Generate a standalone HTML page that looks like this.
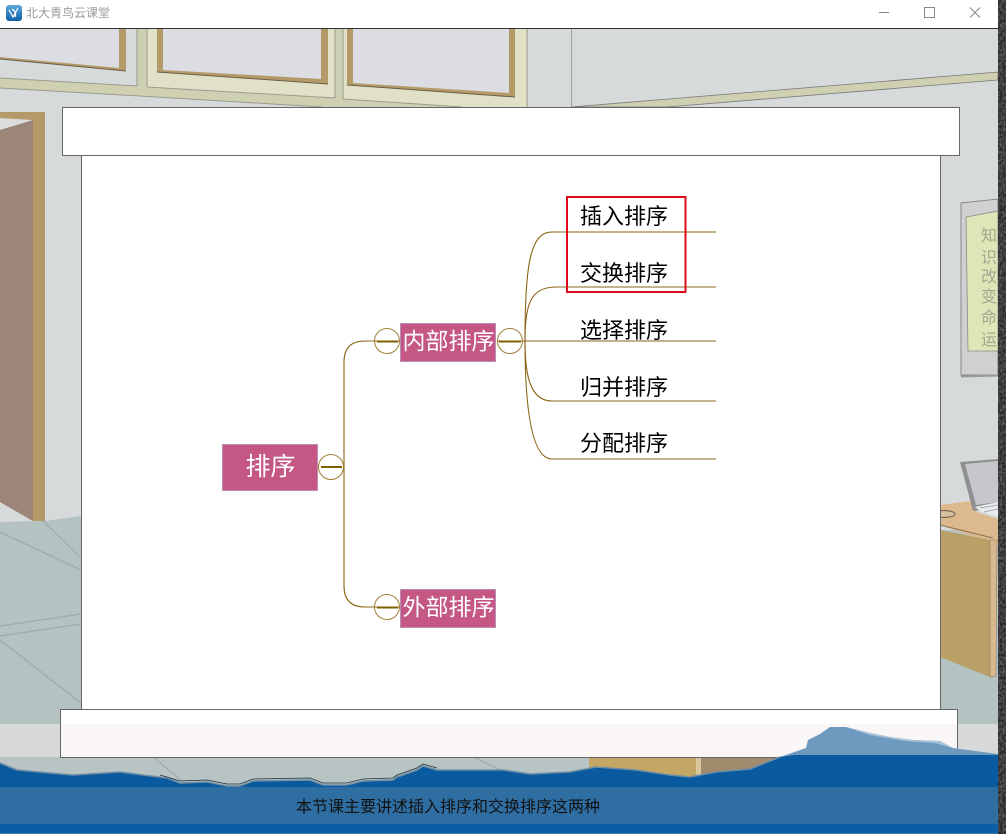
<!DOCTYPE html>
<html lang="zh"><head><meta charset="utf-8"><title>排序</title>
<style>html,body{margin:0;padding:0;background:#fff}svg{display:block}
text{font-family:"Liberation Sans","Noto Sans CJK SC",sans-serif}</style></head>
<body>
<svg xmlns="http://www.w3.org/2000/svg" width="1006" height="834" viewBox="0 0 1006 834">
<defs>
<filter id="n" x="0" y="0" width="100%" height="100%"><feTurbulence type="fractalNoise" baseFrequency="0.35" numOctaves="3" seed="4"/><feColorMatrix values="0 0 0 0 .42  0 0 0 0 .42  0 0 0 0 .43  .9 0 0 0 -.3"/></filter>
<linearGradient id="ic" x1="0" y1="0" x2="0" y2="1"><stop offset="0" stop-color="#5fa8dc"/><stop offset="1" stop-color="#0d5fa8"/></linearGradient>
</defs>
<!-- wall -->
<rect x="0" y="28" width="998" height="700" fill="#d6dadb"/>
<!-- window panels -->
<polygon points="137,28 147,28 147,87 137,86" fill="#cdcfb4"/>
<polygon points="147,28 335,28 335,98 147,87" fill="#e0e1c6"/>
<polygon points="335,28 343,28 343,99 335,98" fill="#cdcfb4"/>
<polygon points="343,28 527,28 527,107 462,107 343,99" fill="#e0e1c6"/>
<polygon points="0,78 137,86 147,87 335,98 343,99 462,107 322,107 140,96 0,88" fill="#cfd0b2"/>
<path d="M0,78 L137,86 M147,87 L335,98 M343,99 L462,107 M0,88 L140,96 L322,107 M137,28V86 M147,28V87 M335,28V98 M343,28V99 M527,28V107" stroke="#9a9c8e" stroke-width="1" fill="none"/>
<!-- window 1 -->
<polygon points="0,28 126,28 126,71 0,59" fill="#b39a68"/>
<polygon points="0,28 119,28 119,68 0,57" fill="#dcdde2"/>
<path d="M0,59 L126,71" stroke="#6d5f48" stroke-width="1"/>
<!-- window 2 -->
<polygon points="157,28 328,28 328,84 157,72" fill="#b39a68"/>
<polygon points="163,28 321,28 321,79 163,70" fill="#dcdde2"/>
<path d="M157,72 L328,84" stroke="#6d5f48" stroke-width="1"/>
<!-- window 3 -->
<polygon points="347,28 515,28 515,97 347,85" fill="#b39a68"/>
<polygon points="353,28 509,28 509,93 353,83" fill="#dcdde2"/>
<path d="M347,85 L515,97" stroke="#6d5f48" stroke-width="1"/>
<!-- right wall -->
<line x1="571.5" y1="28" x2="571.5" y2="107" stroke="#9aa09f"/>
<polygon points="571,107 998,72 998,80 667,107" fill="#cfd0b2" stroke="#777" stroke-width="0.8"/>
<!-- floor -->
<polygon points="0,522 45,521 81,516 81,724 0,724" fill="#b5c2c2"/>
<rect x="940" y="530" width="58" height="195" fill="#b5c2c2"/>
<path d="M0,532 L81,570 M40,518 L81,558 M0,626 L81,614 M0,636 L81,624 M0,640 L81,703" stroke="#a0aeae" stroke-width="1.5" fill="none"/>
<!-- door -->
<polygon points="0,112 45,112 45,521 33,521 0,502" fill="#b39a68"/>
<polygon points="0,118 33,120 33,521 0,502" fill="#9c8579"/>
<polygon points="0,118 33,120 0,130" fill="#dcdcdc"/>
<!-- bottom strip -->
<rect x="0" y="724" width="998" height="40" fill="#d6d9d8"/>
<rect x="0" y="757" width="998" height="35" fill="#b8c4c4"/>
<path d="M153,757 L182,781 M473,757 L500,770" stroke="#a0acac" stroke-width="1.2"/>
<rect x="589" y="757" width="107" height="30" fill="#c4a765"/>
<rect x="696" y="757" width="5" height="30" fill="#d8c8a0"/>
<rect x="701" y="757" width="85" height="30" fill="#a08c6c"/>
<!-- notice board -->
<polygon points="961,203 998,199 998,375 961,375" fill="#cfd0d2" stroke="#888" stroke-width="1"/>
<line x1="961" y1="376.5" x2="998" y2="375.5" stroke="#999" stroke-width="2"/>
<polygon points="966,217 998,211 998,351 968,351" fill="#e0e5b8" stroke="#888" stroke-width="0.8"/>
<g font-size="16" fill="#a3a690" text-anchor="middle">
<text x="989" y="241">知</text><text x="989" y="263">识</text><text x="989" y="282">改</text><text x="989" y="302">变</text><text x="989" y="323">命</text><text x="989" y="345">运</text>
</g>
<!-- laptop and desk -->
<polygon points="940,505 970,501 977,512 998,519 998,545 940,525" fill="#dcb98f"/>
<polygon points="960,462 998,459 998,508 973,511" fill="#8f9091"/>
<polygon points="965,464 998,461 998,502 976,505" fill="#c6c7ca"/>
<polygon points="975,507 998,502 998,517 980,511" fill="#e8ebee"/>
<path d="M980,508 L998,505 M984,512 L998,509" stroke="#9a9a9a" stroke-width="0.8"/>
<path d="M940,525 L993,538" stroke="#8a7350" stroke-width="1"/>
<ellipse cx="944" cy="514" rx="11" ry="3.5" fill="#d6c0a0" stroke="#7f6a52" stroke-width="1.2"/>
<polygon points="940,530 990,540 990,677 940,657" fill="#b9a066"/>
<polygon points="990,540 997,540 996,676 990,677" fill="#d8b98f" stroke="#8a7a60" stroke-width="0.6"/>
<!-- outer dark strip -->
<rect x="998" y="0" width="8" height="834" fill="#2a2a2c"/>
<rect x="998" y="0" width="8" height="834" filter="url(#n)"/>
<!-- title bar -->
<rect x="0" y="0" width="998" height="28" fill="#fff"/>
<line x1="0" y1="28.5" x2="998" y2="28.5" stroke="#333"/>
<rect x="6" y="5" width="16" height="16" rx="3" fill="url(#ic)"/>
<path d="M9,10 L13,17 L18,8 M12,9 Q17,12 15,17" stroke="#fff" stroke-width="1.2" fill="none"/>
<text x="26" y="17" font-size="12" fill="#9a9a9a">北大青鸟云课堂</text>
<line x1="879" y1="12.5" x2="889" y2="12.5" stroke="#888"/>
<rect x="924.5" y="7.5" width="10" height="10" fill="none" stroke="#888"/>
<path d="M970,7.5 L980,17.5 M980,7.5 L970,17.5" stroke="#888" fill="none"/>
<!-- main slide -->
<rect x="81.5" y="155.5" width="859" height="554" fill="#fff" stroke="#666"/>
<rect x="62.5" y="107.5" width="897" height="48" fill="#fff" stroke="#666"/>
<rect x="60.5" y="709.5" width="897" height="48" fill="#fff" stroke="#666"/>
<rect x="61" y="724" width="896" height="33" fill="#faf6f6"/>
<line x1="60" y1="757.5" x2="958" y2="757.5" stroke="#666"/>
<!-- wave -->
<polygon points="780,757 806,748 808,740 820,734 830,727 846,727 870,733 890,737 913,740 940,741 953,748 998,754 998,760 780,760" fill="#6e9ac0"/>
<polygon points="846,727 870,733 890,737 913,740 940,741 953,748 935,743 905,741 870,735" fill="#a9c4da"/>
<polygon points="0,763 17,770 50,773 73,775 120,772 143,775 167,778 180,783 207,782 227,786 240,786 253,781 310,780 323,785 347,785 363,781 393,780 397,777 417,770 423,766 437,770 467,770 503,770 530,774 570,772 596,767 636,770 670,775 690,777 716,772 750,769 780,757 795,755 998,755 998,787 0,787" fill="#0a5a9f"/>
<polyline points="0,763 17,770 50,773 73,775 120,772 143,775 167,778 180,783 207,782 227,786 240,786 253,781 310,780 323,785 347,785 363,781 393,780 397,777 417,770 423,766 437,770 467,770 503,770 530,774 570,772 596,767 636,770 670,775 690,777 716,772 750,769 780,757" fill="none" stroke="#6f8ea5" stroke-width="1.6"/>
<polyline points="160,775 180,781 207,780 227,784 240,784 253,779 310,778 323,783 347,783 363,779 393,778 397,775 417,768 423,764 437,768" fill="none" stroke="#1c2c3a" stroke-width="0.8"/>
<rect x="0" y="787" width="998" height="37" fill="#2f6ea3"/>
<rect x="0" y="824" width="998" height="10" fill="#0a5ea8"/>
<rect x="0" y="833" width="998" height="1" fill="#3c7cb0"/>
<text x="296" y="812" font-size="16" fill="#111">本节课主要讲述插入排序和交换排序这两种</text>
<!-- mind map connectors -->
<g fill="none" stroke="#8a6414" stroke-width="1.1">
<path d="M400,341 L365,341 Q344,341 344,362 L344,586 Q344,607 365,607 L400,607"/>
<path d="M498,341 L716,341"/>
<path d="M525,341 C525,265 530,232 552,232 L716,232"/>
<path d="M525,341 C525,305 530,287 556,287 L716,287"/>
<path d="M525,341 C525,375 530,401 552,401 L716,401"/>
<path d="M525,341 C525,400 530,459 552,459 L716,459"/>
</g>
<g fill="none" stroke="#a07f38" stroke-width="1">
<circle cx="331" cy="467" r="12.5"/>
<circle cx="387" cy="341" r="12.5"/>
<circle cx="387" cy="607" r="12.5"/>
<circle cx="510" cy="341" r="12.5"/>
</g>
<g stroke="#7f6000" stroke-width="2">
<line x1="321" y1="467" x2="342" y2="467"/>
<line x1="377" y1="341.5" x2="398" y2="341.5"/>
<line x1="377" y1="607.5" x2="398" y2="607.5"/>
<line x1="499" y1="341.5" x2="521" y2="341.5"/>
</g>
<!-- nodes -->
<rect x="222.5" y="444.5" width="95" height="46" fill="#c55785" stroke="#b78fb4"/>
<rect x="400.5" y="323.5" width="95" height="38" fill="#c55785" stroke="#b78fb4"/>
<rect x="400.5" y="589.5" width="95" height="38" fill="#c55785" stroke="#b78fb4"/>
<g fill="#fff" text-anchor="middle">
<text x="270.5" y="475" font-size="25">排序</text>
<text x="448.5" y="349" font-size="23">内部排序</text>
<text x="448.5" y="615" font-size="23">外部排序</text>
</g>
<g fill="#000" font-size="22">
<text x="580" y="224">插入排序</text>
<text x="580" y="281">交换排序</text>
<text x="580" y="338">选择排序</text>
<text x="580" y="395">归并排序</text>
<text x="580" y="451">分配排序</text>
</g>
<rect x="567" y="197" width="118.5" height="95" fill="none" stroke="#dc0a1a" stroke-width="2"/>
</svg>
</body></html>
